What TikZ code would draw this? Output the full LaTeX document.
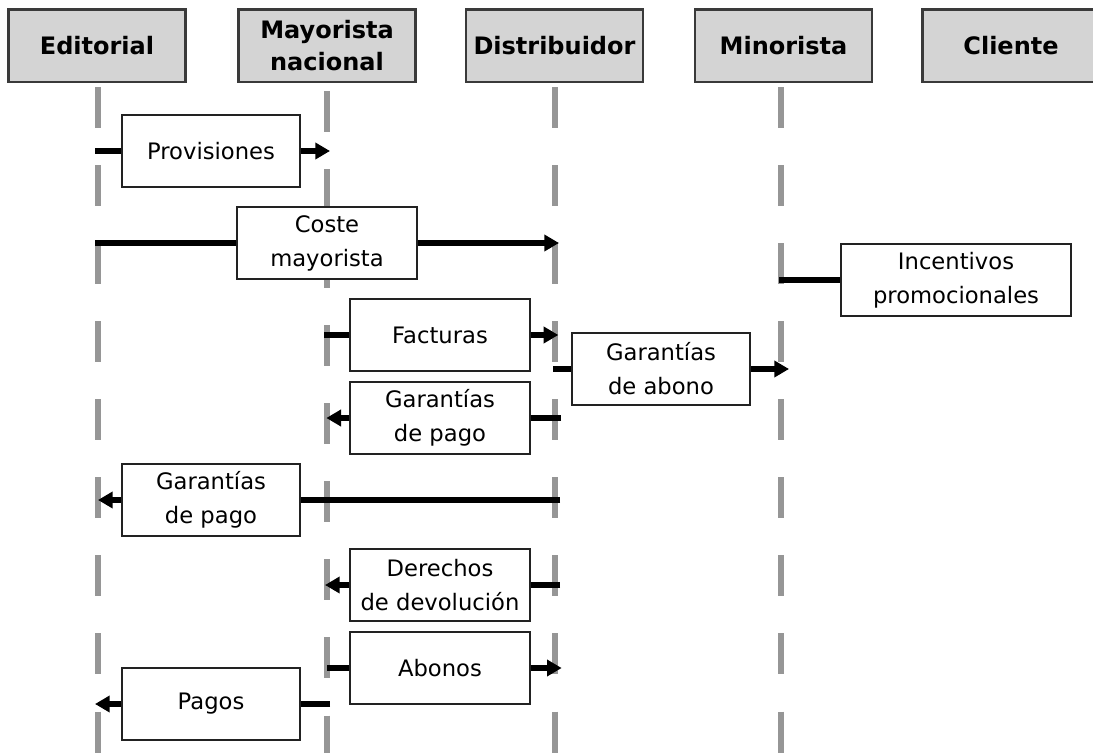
\documentclass[tikz,border=0pt]{standalone}
\usepackage{fontspec}
\setmainfont{DejaVu Sans}
\usetikzlibrary{arrows.meta}
\pgfdeclarelayer{lifelayer}
\pgfdeclarelayer{linelayer}
\pgfsetlayers{lifelayer,linelayer,main}
\definecolor{hdrfill}{HTML}{D4D4D4}
\definecolor{hdrdraw}{HTML}{3A3A3A}
\definecolor{lifegray}{HTML}{969696}
\definecolor{boxdraw}{HTML}{222222}
\begin{document}
\begin{tikzpicture}[x=0.75pt,y=-0.75pt,
  hdr/.style={draw=hdrdraw, line width=1.9pt, fill=hdrfill, minimum width=133pt,
    minimum height=54.4pt, inner sep=0pt, align=center,
    font=\bfseries\fontsize{18}{24}\selectfont},
  msgbox/.style={draw=boxdraw, line width=1.5pt, fill=white, minimum width=#1,
    minimum height=54pt, inner sep=0pt, align=center,
    font=\fontsize{17}{25.5}\selectfont},
  msgbox/.default=135pt,
  lifeline/.style={draw=lifegray, line width=4.3pt, dash pattern=on 30.75pt off 27.8pt},
  msgline/.style={draw=black, line width=4.1pt},
  msgarrow/.style={msgline, -{Triangle[length=11pt,width=12pt]}}
]
\useasboundingbox (0,0) rectangle (1093,753);
\clip (0,0) rectangle (1093,753);
\begin{pgfonlayer}{lifelayer}
\fill[white] (0,0) rectangle (1093,753);
\end{pgfonlayer}

% headers
\node[hdr] (hEd) at (97,45.75) {Editorial};
\node[hdr] (hMa) at (327,45.75) {Mayorista\\nacional};
\node[hdr] (hDi) at (554.5,45.75) {Distribuidor};
\node[hdr] (hMi) at (783.5,45.75) {Minorista};
\node[hdr] (hCl) at (1011,45.75) {Cliente};

% lifelines
\coordinate (L1) at (98,87);   \coordinate (L1b) at (98,760);
\coordinate (L2) at (327,91);  \coordinate (L2b) at (327,760);
\coordinate (L3) at (555,87);  \coordinate (L3b) at (555,760);
\coordinate (L4) at (781,87);  \coordinate (L4b) at (781,760);
\begin{pgfonlayer}{lifelayer}
\draw[lifeline] (L1) -- (L1b);
\draw[lifeline] (L2) -- (L2b);
\draw[lifeline] (L3) -- (L3b);
\draw[lifeline] (L4) -- (L4b);
\end{pgfonlayer}

% message boxes
\node[msgbox=133.5pt] (prov) at (211,151) {Provisiones};
\node[msgbox] (coste) at (327,243) {Coste\\mayorista};
\node[msgbox=173pt] (inc) at (956,280) {Incentivos\\promocionales};
\node[msgbox] (fact) at (440,335) {Facturas};
\node[msgbox=134pt] (gab) at (661,369) {Garantías\\de abono};
\node[msgbox] (gp1) at (440,418) {Garantías\\de pago};
\node[msgbox=133.5pt] (gp2) at (211,500) {Garantías\\de pago};
\node[msgbox] (der) at (440,585) {Derechos\\de devolución};
\node[msgbox] (abo) at (440,668) {Abonos};
\node[msgbox=133.5pt] (pag) at (211,704) {Pagos};

% connectors
\begin{pgfonlayer}{linelayer}
\draw[msgline, shorten <=-2.25pt] (L1 |- prov.west) -- (prov.west);
\draw[msgarrow, shorten >=-2.25pt] (prov.east) -- (L2 |- prov.east);

\draw[msgline, shorten <=-2.25pt] (L1 |- coste.west) -- (coste.west);
\draw[msgarrow, shorten >=-3pt] (coste.east) -- (L3 |- coste.east);

\draw[msgline, shorten <=-1.5pt] (L4 |- inc.west) -- (inc.west);

\draw[msgline, shorten <=-2.25pt] (L2 |- fact.west) -- (fact.west);
\draw[msgarrow, shorten >=-2.5pt] (fact.east) -- (L3 |- fact.east);

\draw[msgline, shorten <=-1.5pt] (L3 |- gab.west) -- (gab.west);
\draw[msgarrow, shorten >=-6pt] (gab.east) -- (L4 |- gab.east);

\draw[msgarrow, shorten >=-0.5pt] (gp1.west) -- (L2 |- gp1.west);
\draw[msgline, shorten <=-4.5pt] (L3 |- gp1.east) -- (gp1.east);

\draw[msgarrow] (gp2.west) -- (L1 |- gp2.west);
\draw[msgline, shorten <=-3.75pt] (L3 |- gp2.east) -- (gp2.east);

\draw[msgarrow, shorten >=-1.5pt] (der.west) -- (L2 |- der.west);
\draw[msgline, shorten <=-3.75pt] (L3 |- der.east) -- (der.east);

\draw[msgline] (L2 |- abo.west) -- (abo.west);
\draw[msgarrow, shorten >=-5pt] (abo.east) -- (L3 |- abo.east);

\draw[msgarrow, shorten >=-2.25pt] (pag.west) -- (L1 |- pag.west);
\draw[msgline, shorten <=-2.25pt] (L2 |- pag.east) -- (pag.east);
\end{pgfonlayer}
\end{tikzpicture}
\end{document}
